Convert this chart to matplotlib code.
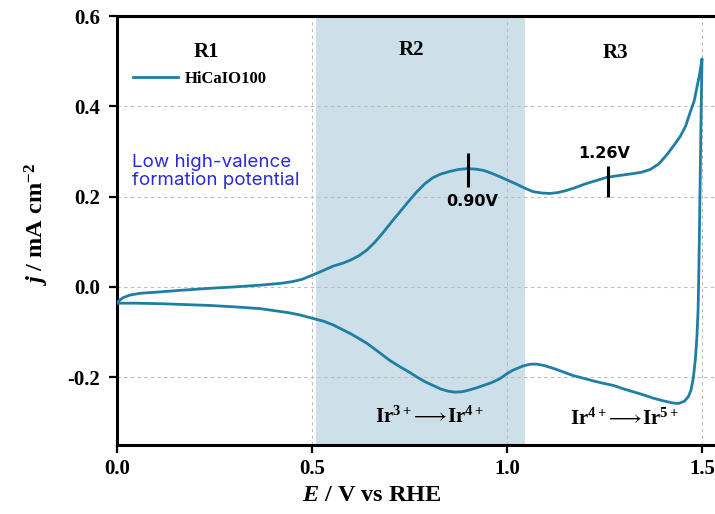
import matplotlib
matplotlib.use("Agg")
import matplotlib.pyplot as plt
import numpy as np

# ---- data ----
anodic_E = [0.0, 0.015, 0.033, 0.06, 0.11, 0.17, 0.238, 0.30, 0.367, 0.42, 0.451, 0.475,
            0.495, 0.52, 0.538, 0.554, 0.58, 0.6, 0.62, 0.641, 0.66, 0.682, 0.705, 0.726,
            0.75, 0.769, 0.79, 0.81, 0.83, 0.854, 0.875, 0.897, 0.92, 0.94, 0.96, 0.982,
            1.0, 1.026, 1.045, 1.067, 1.09, 1.11, 1.13, 1.15, 1.175, 1.2, 1.23, 1.257,
            1.29, 1.323, 1.345, 1.367, 1.39, 1.41, 1.43, 1.444, 1.458, 1.469, 1.48,
            1.487, 1.494, 1.5]
anodic_j = [-0.034, -0.024, -0.018, -0.014, -0.011, -0.007, -0.003, 0.0, 0.004, 0.008,
            0.012, 0.017, 0.024, 0.033, 0.040, 0.046, 0.053, 0.060, 0.069, 0.082, 0.098,
            0.120, 0.145, 0.167, 0.192, 0.211, 0.229, 0.242, 0.250, 0.256, 0.260, 0.262,
            0.261, 0.258, 0.252, 0.244, 0.237, 0.227, 0.219, 0.211, 0.208, 0.207, 0.209,
            0.213, 0.220, 0.228, 0.236, 0.243, 0.247, 0.251, 0.254, 0.260, 0.273, 0.293,
            0.316, 0.333, 0.356, 0.385, 0.412, 0.442, 0.472, 0.505]

cathodic_E = [1.5, 1.498, 1.496, 1.494, 1.492, 1.49, 1.487, 1.483, 1.478, 1.472, 1.465,
              1.455, 1.44, 1.425, 1.40, 1.374, 1.35, 1.323, 1.30, 1.272, 1.245, 1.221,
              1.195, 1.169, 1.14, 1.118, 1.095, 1.077, 1.06, 1.041, 1.016, 1.0, 0.982,
              0.96, 0.94, 0.92, 0.9, 0.885, 0.867, 0.85, 0.83, 0.81, 0.79, 0.77, 0.75,
              0.726, 0.70, 0.68, 0.66, 0.641, 0.62, 0.6, 0.575, 0.554, 0.53, 0.5, 0.469,
              0.44, 0.4, 0.367, 0.3, 0.238, 0.17, 0.11, 0.05, 0.0]
cathodic_j = [0.505, 0.40, 0.28, 0.15, 0.04, -0.05, -0.11, -0.16, -0.20, -0.228, -0.243,
              -0.253, -0.258, -0.257, -0.252, -0.246, -0.239, -0.232, -0.226, -0.218,
              -0.213, -0.208, -0.202, -0.196, -0.187, -0.180, -0.174, -0.171, -0.171,
              -0.175, -0.184, -0.192, -0.203, -0.212, -0.218, -0.224, -0.229, -0.232,
              -0.233, -0.231, -0.226, -0.218, -0.210, -0.200, -0.189, -0.177, -0.163,
              -0.150, -0.137, -0.125, -0.114, -0.104, -0.093, -0.084, -0.076, -0.069,
              -0.062, -0.057, -0.052, -0.048, -0.044, -0.041, -0.039, -0.037, -0.036,
              -0.036]

region_labels = ["R1", "R2", "R3"]
region_label_E = [0.23, 0.756, 1.277]
region_label_j = [0.52, 0.524, 0.518]
shade_range = [0.51, 1.045]

peak_E = [0.90, 1.26]
peak_text = ["0.90V", "1.26V"]
peak_lo = [0.222, 0.200]
peak_hi = [0.296, 0.267]

x_ticks = [0.0, 0.5, 1.0, 1.5]
y_ticks = [-0.2, 0.0, 0.2, 0.4, 0.6]

line_color = "#1f7ea3"

plt.rcParams['mathtext.fontset'] = 'custom'
plt.rcParams['mathtext.rm'] = 'Liberation Serif:bold'
plt.rcParams['mathtext.bf'] = 'Liberation Serif:bold'
plt.rcParams['mathtext.it'] = 'Liberation Serif:italic:bold'

fig = plt.figure(figsize=(7.15, 5.14), dpi=100)
ax = fig.add_axes([117/715, 1-445/514, 604.5/715, 429/514])

ax.axvspan(shade_range[0], shade_range[1], color="#cde0e9", zorder=0, lw=0)

E = anodic_E + cathodic_E
J = anodic_j + cathodic_j
ax.plot(E, J, color=line_color, lw=2.0, label="HiCaIO100", zorder=3,
        solid_joinstyle='round')

ax.set_xlim(0, 1.55)
ax.set_ylim(-0.35, 0.6)
tick_font = {"family": "Liberation Serif", "weight": "bold", "size": 15}
ax.set_xticks(x_ticks)
ax.set_yticks(y_ticks)
ax.set_xticklabels([f"{v:.1f}" for v in x_ticks], fontdict=tick_font)
ax.set_yticklabels([f"{v:.1f}" for v in y_ticks], fontdict=tick_font)

ax.set_axisbelow(True)
ax.grid(True, color="#bdbdbd", lw=0.8, linestyle=(0, (3, 3)), zorder=0.5)

for s in ax.spines.values():
    s.set_linewidth(2.2)
ax.tick_params(direction="out", length=6, width=1.6, pad=4)
ax.tick_params(axis='y', pad=6)

ax.set_xlabel(r"$\mathit{E}$ / V vs RHE", fontsize=17.5, fontfamily="Liberation Serif",
              fontweight="bold")
ax.xaxis.set_label_coords(0.422, -0.093)
ax.set_ylabel(r"$\mathit{j}$ / mA cm$^{\mathbf{-2}}$", fontsize=17.5,
              fontfamily="Liberation Serif", fontweight="bold")
ax.yaxis.set_label_coords(-0.11, 0.513)

for lbl, x, y in zip(region_labels, region_label_E, region_label_j):
    ax.text(x, y, lbl, ha="center", va="center", fontsize=15,
            fontfamily="Liberation Serif", fontweight="bold")

leg = ax.legend(loc="center left", bbox_to_anchor=(0.0265, 0.853), frameon=False,
                borderpad=0, borderaxespad=0, handlelength=2.7, handletextpad=0.4,
                prop={"family": "Liberation Serif", "weight": "bold", "size": 12})

ax.text(0.038, 0.2555, "Low high-valence\nformation potential", color="#2a2ad8",
        fontsize=13.5, fontfamily="Inter", ha="left", va="center", linespacing=1.05)

ax.vlines(peak_E, peak_lo, peak_hi, color="black", lw=2.2, zorder=4)
ax.text(0.91, 0.189, peak_text[0], ha="center", va="center", fontsize=11.5,
        fontfamily="DejaVu Sans", fontweight="bold")
ax.text(1.25, 0.296, peak_text[1], ha="center", va="center", fontsize=11.5,
        fontfamily="DejaVu Sans", fontweight="bold")

ax.text(0.80, -0.289, r"Ir$^{\mathbf{3+}}\!\longrightarrow\!$Ir$^{\mathbf{4+}}$",
        ha="center", va="center", fontsize=15, fontfamily="Liberation Serif",
        fontweight="bold")
ax.text(1.30, -0.293, r"Ir$^{\mathbf{4+}}\!\longrightarrow\!$Ir$^{\mathbf{5+}}$",
        ha="center", va="center", fontsize=15, fontfamily="Liberation Serif",
        fontweight="bold")

fig.savefig("out.png", dpi=100)
